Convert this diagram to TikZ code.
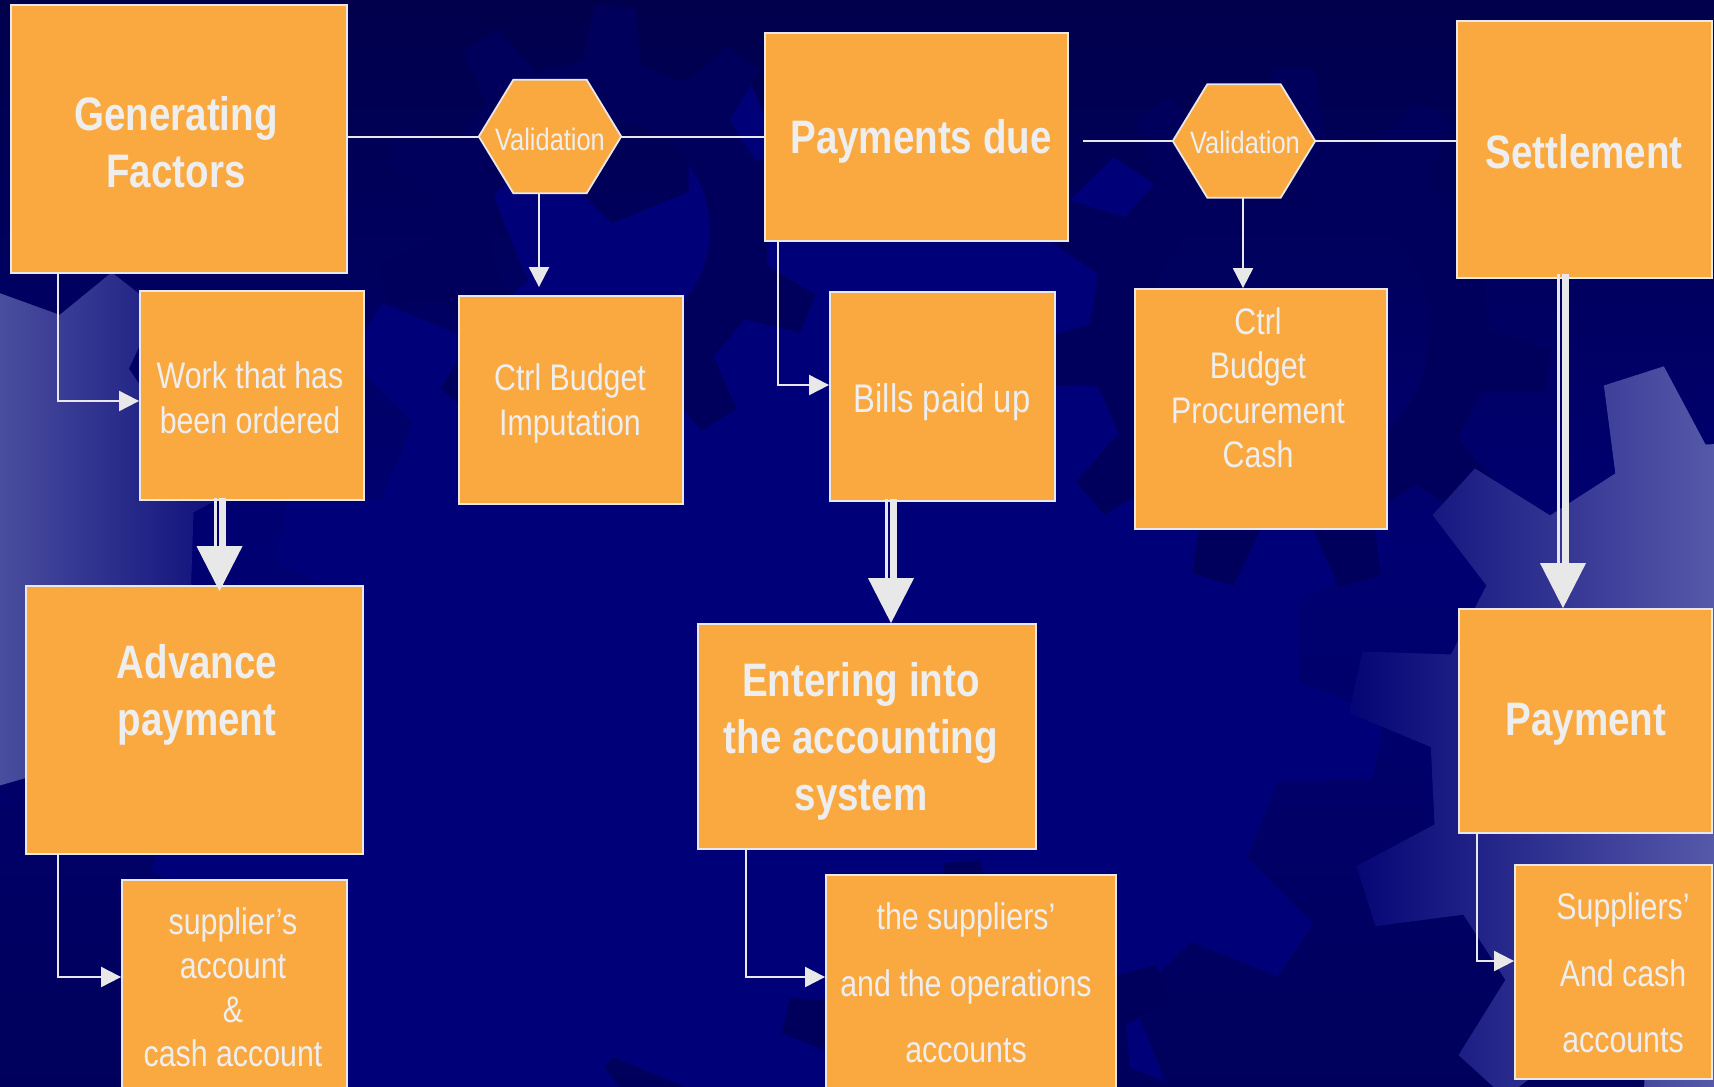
\documentclass[tikz,border=0pt]{standalone}
\usepackage{fontspec}
\setmainfont{Liberation Sans}[FakeStretch=0.82]
\usetikzlibrary{arrows.meta,calc}

\definecolor{boxfill}{HTML}{FAA940}
\definecolor{edge}{HTML}{E8E8E8}
\definecolor{txt}{HTML}{EEEEEE}
\definecolor{navytop}{HTML}{00004C}
\definecolor{navymid}{HTML}{000072}
\definecolor{navybot}{HTML}{00005C}
\definecolor{gearmid}{HTML}{000078}
\definecolor{geardark}{HTML}{00005C}
\definecolor{litleft}{HTML}{4A4E9E}
\definecolor{litright}{HTML}{5659A9}

\tikzset{
 box/.style={rectangle, draw=edge, line width=1.8pt, fill=boxfill, inner sep=0pt},
 hexframe/.style={rectangle, draw=none, minimum width=142pt, minimum height=113pt, inner sep=0pt},
 hexshape/.style={draw=edge, line width=1.8pt, fill=boxfill},
 title/.style={text=txt, align=center, font=\bfseries\fontsize{47}{57}\selectfont, inner sep=0pt},
 body/.style={text=txt, align=center, font=\fontsize{37}{45}\selectfont, inner sep=0pt},
 hextext/.style={text=txt, font=\fontsize{31}{37}\selectfont, inner sep=0pt},
 conn/.style={draw=edge, line width=2pt},
 arr/.style={conn, -{Triangle[width=20pt,length=20pt]}},
}

% gear outline: r inner, R outer, n teeth, rot
\newcommand\gearpath[4]{(#4:#1) \foreach \k [evaluate=\k as \a using (\k-1)*360/#3+#4] in {1,...,#3} { -- (\a:#1) -- ({\a+0.13*360/#3}:#2) -- ({\a+0.42*360/#3}:#2) -- ({\a+0.55*360/#3}:#1) } -- cycle}

\newcommand\hexnode[3]{%
 \node[hexframe] (#1) at (#2,#3) {};
 \filldraw[hexshape] (#1.west) -- ([xshift=34.5pt]#1.north west) -- ([xshift=-34.5pt]#1.north east) -- (#1.east) -- ([xshift=-34.5pt]#1.south east) -- ([xshift=34.5pt]#1.south west) -- cycle;
}

\newcommand\bigarrow[2]{%
 \draw[edge, line width=3pt] ([xshift=-4.5pt]#1) -- ([xshift=-4.5pt,yshift=44pt]#2);
 \draw[edge, line width=7pt] ([xshift=2.5pt]#1) -- ([xshift=2.5pt,yshift=44pt]#2);
 \fill[edge] (#2) -- ([xshift=-23pt,yshift=45pt]#2) -- ([xshift=23pt,yshift=45pt]#2) -- cycle;
}

\begin{document}
\begin{tikzpicture}[x=1pt,y=-1pt]
\useasboundingbox (0,0) rectangle (1714,1087);
\clip (0,0) rectangle (1714,1087);

% ---------- background ----------
\shade[top color=navytop, bottom color=navybot, middle color=navymid] (0,0) rectangle (1714,1087);
\fill[gearmid, shift={(830,640)}] \gearpath{470}{560}{16}{5};
\fill[geardark, shift={(600,230)}, even odd rule] \gearpath{170}{225}{10}{12} (0,0) circle (110);
\fill[geardark, shift={(1290,330)}, even odd rule] \gearpath{200}{262}{11}{0} (0,0) circle (140);
\fill[gearmid, shift={(430,930)}] \gearpath{220}{285}{12}{8};
\fill[geardark, shift={(980,1060)}, even odd rule] \gearpath{150}{200}{10}{3} (0,0) circle (100);
\begin{scope}
 \clip[shift={(-60,540)}] \gearpath{255}{318}{10}{10};
 \shade[left color=litleft, right color=navymid] (0,150) rectangle (275,950);
\end{scope}
\begin{scope}
 \clip[shift={(1760,770)}] \gearpath{330}{415}{12}{4};
 \shade[left color=navymid, right color=litright] (1330,250) rectangle (1714,1087);
\end{scope}

% ---------- boxes ----------
\node[box, minimum width=336pt, minimum height=268pt] (gf) at (179,139) {};
\node[box, minimum width=303pt, minimum height=208pt] (pd) at (916.5,137) {};
\node[box, minimum width=255pt, minimum height=257pt] (st) at (1584.5,149.5) {};
\node[box, minimum width=224pt, minimum height=209pt] (work) at (252,395.5) {};
\node[box, minimum width=224pt, minimum height=208pt] (cbi) at (571,400) {};
\node[box, minimum width=225pt, minimum height=209pt] (bills) at (942.5,396.5) {};
\node[box, minimum width=252pt, minimum height=240pt] (cbpc) at (1261,409) {};
\node[box, minimum width=337pt, minimum height=268pt] (ap) at (194.5,720) {};
\node[box, minimum width=338pt, minimum height=225pt] (eis) at (867,736.5) {};
\node[box, minimum width=253pt, minimum height=224pt] (pay) at (1585.5,721) {};
\node[box, minimum width=225pt, minimum height=230pt] (sca) at (234.5,995) {};
\node[box, minimum width=290pt, minimum height=235pt] (tsa) at (971,992.5) {};
\node[box, minimum width=197pt, minimum height=214pt] (sac) at (1613.5,972) {};

\hexnode{hexa}{550}{136.5}
\hexnode{hexb}{1244}{141}

% ---------- texts ----------
\node[title] (gft) at (176,142) {Generating\\Factors};
\node[title] (pdt) at (921,141) {Payments due};
\node[title] (stt) at (1584,152) {Settlement};
\node[title] (apx) at (197,695) {Advance\\payment};
\node[title] (eisx) at (861,741) {Entering into\\the accounting\\system};
\node[title] (payx) at (1586,724) {Payment};
\node[body] (wkt) at (250,398) {Work that has\\been ordered};
\node[body] (cbit) at (570,403) {Ctrl Budget\\Imputation};
\node[body, font=\fontsize{40}{48}\selectfont] (blt) at (942,402) {Bills paid up};
\node[body, font=\fontsize{37}{44.5}\selectfont] (cbpct) at (1258,388) {Ctrl\\Budget\\Procurement\\Cash};
\node[body, font=\fontsize{37}{44}\selectfont] (scat) at (233,987) {supplier’s\\account\\\&\\cash account};
\node[body, font=\fontsize{37}{66.7}\selectfont] (tsat) at (966,983) {the suppliers’\\and the operations\\accounts};
\node[body, font=\fontsize{37}{66.7}\selectfont] (sact) at (1623,973) {Suppliers’\\And cash\\accounts};
\node[hextext] (vat) at (550,139) {Validation};
\node[hextext] (vbt) at (1245,142) {Validation};

% ---------- connectors ----------
\draw[conn] (gf.east |- hexa.west) -- (hexa.west);
\draw[conn] (hexa.east) -- (hexa.east -| pd.west);
\coordinate (pdr) at ([xshift=14pt]pd.east);
\draw[conn] (pdr |- hexb.west) -- (hexb.west);
\draw[conn] (hexb.east) -- (hexb.east -| st.west);

\coordinate (hab) at ([xshift=-11pt]hexa.south);
\draw[arr, shorten >=8pt] (hab) -- (hab |- cbi.north);
\coordinate (hbb) at ([xshift=-1pt]hexb.south);
\draw[arr] (hbb) -- (hbb |- cbpc.north);

\coordinate (gfd) at ([xshift=48pt]gf.south west);
\coordinate (wkin) at ([yshift=-5.5pt]work.west);
\draw[arr] (gfd) |- (wkin);
\coordinate (pdd) at ([xshift=14pt]pd.south west);
\coordinate (blin) at ([yshift=11.5pt]bills.west);
\draw[arr] (pdd) |- (blin);
\coordinate (apd) at ([xshift=33pt]ap.south west);
\coordinate (scin) at ([yshift=18pt]sca.west);
\draw[arr] (apd) |- (scin);
\coordinate (eisd) at ([xshift=49pt]eis.south west);
\coordinate (tsain) at ([yshift=15.5pt]tsa.west);
\draw[arr] (eisd) |- (tsain);
\coordinate (payd) at ([xshift=19pt]pay.south west);
\coordinate (sacin) at ([yshift=11pt]sac.west);
\draw[arr] (payd) |- (sacin);

% big double arrows
\coordinate (wkb) at ([xshift=-32.5pt,yshift=3pt]work.south);
\coordinate (aptip0) at (wkb |- ap.north);
\coordinate (aptip) at ([yshift=-6pt]aptip0);
\bigarrow{wkb}{aptip}
\coordinate (blb) at ([xshift=-51.5pt,yshift=3pt]bills.south);
\coordinate (eistip) at (blb |- eis.north);
\bigarrow{blb}{eistip}
\coordinate (stb) at ([xshift=-21.5pt,yshift=5pt]st.south);
\coordinate (paytip) at (stb |- pay.north);
\bigarrow{stb}{paytip}
\end{tikzpicture}
\end{document}
